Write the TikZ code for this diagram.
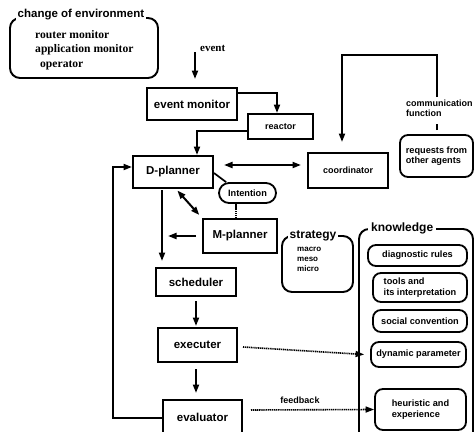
\documentclass[tikz,border=0pt]{standalone}
\usepackage{fontspec}
\setmainfont{Liberation Sans}
\newfontfamily\serifb{Liberation Serif}
\usetikzlibrary{arrows.meta}
\begin{document}
\begin{tikzpicture}[x=1pt,y=-1pt,
  bbox/.style={draw, line width=2pt, inner sep=0pt, font=\fontsize{11.5}{13}\selectfont\bfseries},
  sbox/.style={bbox, font=\fontsize{9}{10}\selectfont\bfseries},
  rbox/.style={draw, line width=1.8pt, rounded corners=8pt, inner sep=0pt, align=left, font=\fontsize{9.2}{10.5}\selectfont\bfseries},
  cont/.style={draw, line width=1.9pt, rounded corners=10pt, inner sep=0pt},
  ttl/.style={fill=white, inner sep=1.5pt, anchor=west, font=\fontsize{11.5}{13}\selectfont\bfseries},
  lbl/.style={inner sep=0pt, anchor=west, font=\fontsize{9}{10}\selectfont\bfseries},
  serlbl/.style={inner sep=0pt, anchor=west, font=\serifb\fontsize{11.6}{13}\selectfont\bfseries},
  tip/.style={-{Triangle[length=8.5pt,width=6pt]}},
  arr/.style={line width=2pt, tip},
  darr/.style={line width=2pt, {Triangle[length=8.5pt,width=6pt]}-{Triangle[length=8.5pt,width=6pt]}},
  dotl/.style={line width=1.6pt, dash pattern=on 1.2pt off 0.7pt},
  dotarr/.style={dotl, tip}
]
\clip (0,0) rectangle (475,432);
\fill[white] (0,0) rectangle (475,432);

% containers
\node[cont, minimum width=148pt, minimum height=60pt] (env) at (84,48) {};
\node[ttl] (envttl) at (16,15) {change of environment};
\node[serlbl] (env1) at (35,35) {router monitor};
\node[serlbl] (env2) at (35,50) {application monitor};
\node[serlbl] (env3) at (40,65) {operator};

\node[cont, minimum width=71pt, minimum height=56pt] (strat) at (317.5,264) {};
\node[ttl, font=\fontsize{12}{13}\selectfont\bfseries] (stratttl) at (288,236) {strategy};
\node[lbl, anchor=north west, align=left, font=\fontsize{8}{10}\selectfont\bfseries] (stratitems) at (297,247) {macro\\meso\\micro};

\node[cont, minimum width=114pt, minimum height=216pt] (know) at (416,337) {};
\node[ttl, inner xsep=3pt, font=\fontsize{12}{13}\selectfont\bfseries] (knowttl) at (368,228) {knowledge};

% knowledge items
\node[rbox, minimum width=99pt, minimum height=21pt] (diag) at (417.5,255.5) {diagnostic rules};
\node[rbox, minimum width=94pt, minimum height=29pt] (tools) at (420,287.5) {tools and\\its interpretation};
\node[rbox, minimum width=94pt, minimum height=22pt] (social) at (420,321) {social convention};
\node[rbox, minimum width=95pt, minimum height=25pt] (dyn) at (418.5,354.5) {dynamic parameter};
\node[rbox, minimum width=91pt, minimum height=41pt] (heur) at (420.5,409.5) {heuristic and\\experience};

% main boxes
\node[bbox, minimum width=90pt, minimum height=32pt] (evmon) at (192,104) {event monitor};
\node[sbox, minimum width=65pt, minimum height=25pt] (reactor) at (280.5,126.5) {reactor};
\node[bbox, minimum width=80pt, minimum height=32pt] (dplan) at (173,172) {D-planner};
\node[sbox, minimum width=80pt, minimum height=35pt] (coord) at (348,170.5) {coordinator};
\node[rbox, minimum width=73pt, minimum height=42pt] (req) at (436.5,156) {requests from\\other agents};
\node[rbox, rounded corners=10pt, minimum width=57pt, minimum height=20pt] (intent) at (247.5,193) {Intention};
\node[bbox, minimum width=74pt, minimum height=34pt] (mplan) at (240,236) {M-planner};
\node[bbox, minimum width=80pt, minimum height=28pt] (sched) at (196,282) {scheduler};
\node[bbox, minimum width=79pt, minimum height=34pt] (exec) at (197.5,345) {executer};
\node[bbox, minimum width=79pt, minimum height=34pt] (eval) at (202.5,417) {evaluator};

% labels
\node[serlbl, font=\serifb\fontsize{11}{12}\selectfont\bfseries] (evlbl) at (200,48) {event};
\node[lbl, align=left] (comm) at (406,108) {communication\\function};
\node[lbl, anchor=center] (fb) at (300,400) {feedback};

% coordinates
\coordinate (evsrc) at (195,52);
\coordinate (c1) at (437,97);
\coordinate (ctop) at (437,55);
\coordinate (lx) at (113,0);

% connectors
\draw[arr, shorten >=8pt] (evsrc) -- (evsrc |- evmon.north);
\draw[arr] ([yshift=11]evmon.east) -| ([xshift=-3.5]reactor.north);
\draw[arr] ([yshift=-4.5]reactor.west) -| ([xshift=24]dplan.north);
\draw[darr, shorten <=10pt, shorten >=6pt] ([yshift=7]dplan.east) -- ([yshift=7]dplan.east -| coord.west);
\draw[arr, shorten >=10pt] (c1) -- (ctop) -| ([xshift=-6]coord.north);
\draw[line width=2pt] ([yshift=4]req.north) -- ([yshift=10]req.north);
\draw[line width=1.7pt] ([yshift=-1]dplan.east) -- ([xshift=8]intent.north west);
\draw[dotl] ([xshift=-4]mplan.north) -- ([xshift=-4]mplan.north |- intent.south);
\draw[darr, shorten <=2pt, shorten >=4pt] ([xshift=3]dplan.south) -- (mplan.north west);
\draw[arr] ([xshift=-6]mplan.west) -- ([xshift=-34]mplan.west);
\draw[arr, shorten <=1pt, shorten >=6pt] ([xshift=-11]dplan.south) -- ([xshift=-11]dplan.south |- sched.north);
\draw[arr, shorten <=4pt, shorten >=1pt] (sched.south) -- (sched.south |- exec.north);
\draw[arr, shorten <=6pt, shorten >=6pt] ([xshift=-1.5]exec.south) -- ([xshift=-1.5]exec.south |- eval.north);
\draw[arr] ([yshift=-1]eval.west) -- ([yshift=-1]eval.west -| lx) |- ([yshift=5]dplan.west);
\draw[dotarr] ([xshift=5,yshift=-2]exec.east) -- ([xshift=-6]dyn.west);
\draw[dotarr] ([xshift=8,yshift=7]eval.east) -- (heur.west);
\end{tikzpicture}
\end{document}
